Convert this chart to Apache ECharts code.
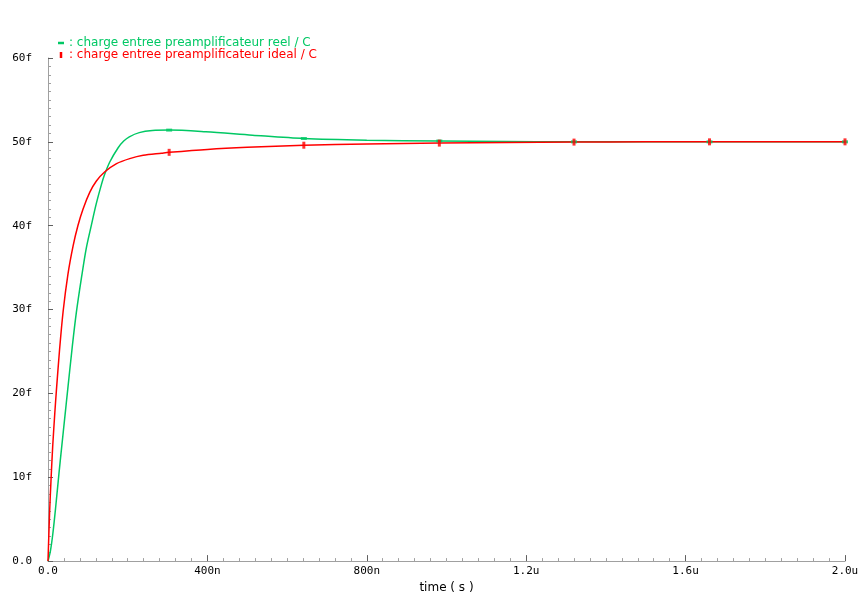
<!DOCTYPE html>
<html>
<head>
<meta charset="utf-8">
<script src="https://cdn.jsdelivr.net/npm/echarts@6/dist/echarts.min.js"></script>
<style>
html,body{margin:0;padding:0;background:#fff;}
#chart{width:865px;height:599px;}
</style>
</head>
<body>
<div id="chart"></div>
<script>
// ---- data (time in ns, charge in fC) ----
const realName = 'charge entree preamplificateur reel / C';
const idealName = 'charge entree preamplificateur ideal / C';

const realT = [0, 6, 12, 19, 27.6, 33, 43.6, 48, 61, 71, 84, 96, 109, 121, 134, 142, 155, 176, 190, 204, 229, 262, 304, 396, 513, 642, 800, 982, 1150, 1300, 1500, 2000];
const realQ = [0, 1.2, 3.2, 6.3, 10.5, 13.0, 17.8, 19.8, 25.6, 29.6, 33.8, 37.3, 40.1, 42.6, 44.9, 46.1, 47.6, 49.3, 50.1, 50.6, 51.1, 51.35, 51.4, 51.2, 50.8, 50.4, 50.2, 50.1, 50.03, 50, 50, 50];

const idealT = [0, 4, 7.5, 11.7, 17, 21, 29, 38, 50, 63, 75, 88, 105, 121, 142, 172, 205, 239, 285, 304, 400, 500, 642, 800, 982, 1150, 1320, 1500, 1660, 2000];
const idealQ = [0, 5.8, 9.6, 13.6, 17.6, 20.3, 25.2, 29.8, 34.2, 37.6, 40.0, 42.0, 44.0, 45.3, 46.4, 47.4, 48.0, 48.4, 48.65, 48.75, 49.1, 49.35, 49.6, 49.75, 49.85, 49.93, 49.97, 50, 50, 50];

const markerT = [304, 642, 982, 1320, 1660, 2000];
const realMarkQ = [51.4, 50.4, 50.1, 50.0, 50, 50];
const idealMarkQ = [48.75, 49.6, 49.85, 49.97, 50, 50];

const xTickLabels = ['0.0', '400n', '800n', '1.2u', '1.6u', '2.0u'];
const yTickLabels = ['0.0', '10f', '20f', '30f', '40f', '50f', '60f'];

const greenColor = '#00c864';
const redColor = '#ff0000';

function pairs(t, q) { return t.map((v, i) => [v, q[i]]); }

const axisFont = { fontFamily: 'DejaVu Sans Mono', fontSize: 11, color: '#000' };

const chart = echarts.init(document.getElementById('chart'), null, { renderer: 'canvas' });
chart.setOption({
  animation: false,
  backgroundColor: '#fff',
  grid: { left: 48, right: 20, top: 58, bottom: 33, containLabel: false },
  legend: {
    orient: 'vertical',
    left: 53, top: 32,
    itemGap: 0,
    itemWidth: 6, itemHeight: 6,
    symbolKeepAspect: true,
    formatter: n => ': ' + n,
    textStyle: { fontFamily: 'DejaVu Sans', fontSize: 12, lineHeight: 11 },
    data: [
      { name: realName, icon: 'path://M0,0h6v2.5h-6z', textStyle: { color: greenColor } },
      { name: idealName, icon: 'path://M0,0h2.5v6h-2.5z', textStyle: { color: redColor } }
    ]
  },
  xAxis: {
    type: 'value', min: 0, max: 2000, interval: 400,
    name: 'time ( s )', nameLocation: 'middle', nameGap: 18,
    nameTextStyle: { fontFamily: 'DejaVu Sans', fontSize: 12, color: '#000' },
    axisLine: { lineStyle: { color: '#a0a0a0', width: 1 } },
    axisTick: { inside: true, length: 6, lineStyle: { color: '#606060' } },
    minorTick: { show: true, splitNumber: 10, length: 3, lineStyle: { color: '#a0a0a0' } },
    splitLine: { show: false },
    axisLabel: Object.assign({ margin: 5, formatter: v => xTickLabels[Math.round(v / 400)] }, axisFont)
  },
  yAxis: {
    type: 'value', min: 0, max: 60, interval: 10,
    axisLine: { show: true, lineStyle: { color: '#a0a0a0', width: 1 } },
    axisTick: { show: true, inside: true, length: 5, lineStyle: { color: '#606060' } },
    minorTick: { show: true, splitNumber: 10, length: 3, lineStyle: { color: '#a0a0a0' } },
    splitLine: { show: false },
    axisLabel: Object.assign({ margin: 16, padding: [0, 0, 4, 0], formatter: v => yTickLabels[Math.round(v / 10)] }, axisFont)
  },
  series: [
    {
      name: realName, type: 'line', data: pairs(realT, realQ),
      showSymbol: false, smooth: 0.3, color: greenColor,
      lineStyle: { color: greenColor, width: 1.5 }, z: 2
    },
    {
      name: idealName, type: 'line', data: pairs(idealT, idealQ),
      showSymbol: false, smooth: 0.3, color: redColor,
      lineStyle: { color: redColor, width: 1.5 }, z: 3
    },
    {
      name: realName, type: 'scatter', data: pairs(markerT, realMarkQ),
      symbol: 'rect', symbolSize: [6, 3], itemStyle: { color: greenColor }, z: 4
    },
    {
      name: idealName, type: 'scatter', data: pairs(markerT, idealMarkQ),
      symbol: 'rect', symbolSize: [3, 7], itemStyle: { color: redColor }, z: 5
    }
  ]
});
</script>
</body>
</html>
